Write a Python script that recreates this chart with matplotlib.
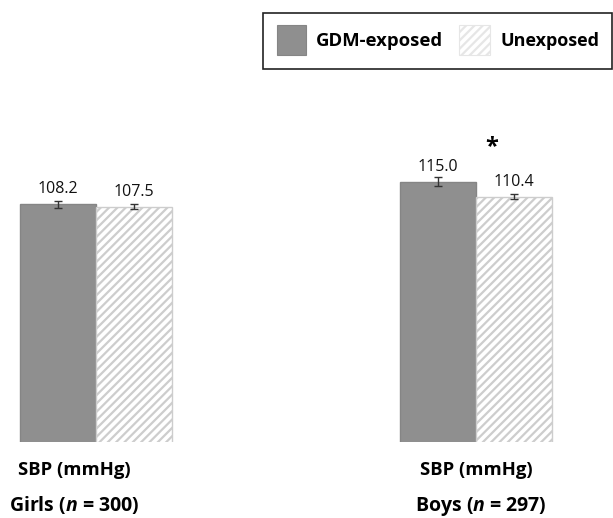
import matplotlib
matplotlib.use("Agg")
import matplotlib.pyplot as plt
from matplotlib.patches import Rectangle

# data
groups = ["Girls", "Boys"]
group_n = [300, 297]
series = ["GDM-exposed", "Unexposed"]
gdm_values = [108.2, 115.0]
gdm_err = [1.0, 1.4]
unexp_values = [107.5, 110.4]
unexp_err = [0.65, 0.75]
measure = "SBP (mmHg)"
signif = [False, True]

plt.rcParams['font.family'] = ['Open Sans', 'DejaVu Sans']
plt.rcParams['mathtext.fontset'] = 'custom'
plt.rcParams['mathtext.it'] = 'Open Sans:italic:bold'
plt.rcParams['mathtext.rm'] = 'Open Sans:bold'
plt.rcParams['hatch.linewidth'] = 1.6

W, H = 613, 518
fig = plt.figure(figsize=(W / 100, H / 100), dpi=100)

# pixel geometry of the plotting region
px_unit = 76.0                 # one bar width in px
x0_px = 96.0                   # centre of first group
base_px, top_px = 442.0, 110.0
ymin, yscale = 36.6, 3.32      # value at baseline, px per mmHg
ymax = ymin + (base_px - top_px) / yscale

ax = fig.add_axes([0, (H - base_px) / H, 1, (base_px - top_px) / H])
ax.set_xlim(-x0_px / px_unit, (W - x0_px) / px_unit)
ax.set_ylim(ymin, ymax)
ax.axis('off')

pos = [0, 5]
dark_x = [p - 0.5 for p in pos]
light_x = [p + 0.5 for p in pos]

ax.bar(dark_x, gdm_values, width=1.0, color='#8f8f8f', edgecolor='#858585',
       linewidth=1.0)
ax.bar(light_x, unexp_values, width=1.0, color='white', edgecolor='#cdcdcd',
       hatch='////', linewidth=1.0)
ax.errorbar(dark_x, gdm_values, yerr=gdm_err, fmt='none', ecolor='#333333',
            elinewidth=1.0, capsize=3, capthick=1.0)
ax.errorbar(light_x, unexp_values, yerr=unexp_err, fmt='none', ecolor='#333333',
            elinewidth=1.0, capsize=3, capthick=1.0)

for xs, vals in ((dark_x, gdm_values), (light_x, unexp_values)):
    for x, v in zip(xs, vals):
        ax.annotate(f"{v:.1f}", (x, v), xytext=(0, 8), textcoords='offset points',
                    ha='center', va='baseline', fontsize=11.5, color='#111111')

for p, s, v in zip(pos, signif, gdm_values):
    if s:
        ax.annotate("*", (p + 0.21, v), xytext=(0, 25), textcoords='offset points',
                    ha='center', va='center', fontsize=17, fontweight='bold')

# overlay in pixel coordinates for the labels and legend
ov = fig.add_axes([0, 0, 1, 1], zorder=-1)
ov.set_xlim(0, W)
ov.set_ylim(H, 0)
ov.axis('off')

label_x = [18, 420]
group_x = [9, 415]
for i, g in enumerate(groups):
    ov.text(label_x[i], 475, measure, fontsize=13.3, fontweight='bold',
            ha='left', va='baseline')
    ov.text(group_x[i], 511, g + r" ($\mathit{n}$ = " + f"{group_n[i]})",
            fontsize=14, fontweight='bold', ha='left', va='baseline')

# legend box
ov.add_patch(Rectangle((263, 12.5), 348.5, 56, facecolor='white',
                       edgecolor='#222222', linewidth=1.2))
ov.add_patch(Rectangle((277, 25), 29, 30, facecolor='#8f8f8f',
                       edgecolor='#858585', linewidth=0.8))
ov.add_patch(Rectangle((459, 25), 31, 30, facecolor='white',
                       edgecolor='#e6e6e6', hatch='////', linewidth=0.8))
ov.text(316, 46, series[0], fontsize=13.3, fontweight='bold', ha='left',
        va='baseline')
ov.text(500, 46, series[1], fontsize=13, fontweight='bold', ha='left',
        va='baseline')

fig.savefig("out.png", dpi=100)
